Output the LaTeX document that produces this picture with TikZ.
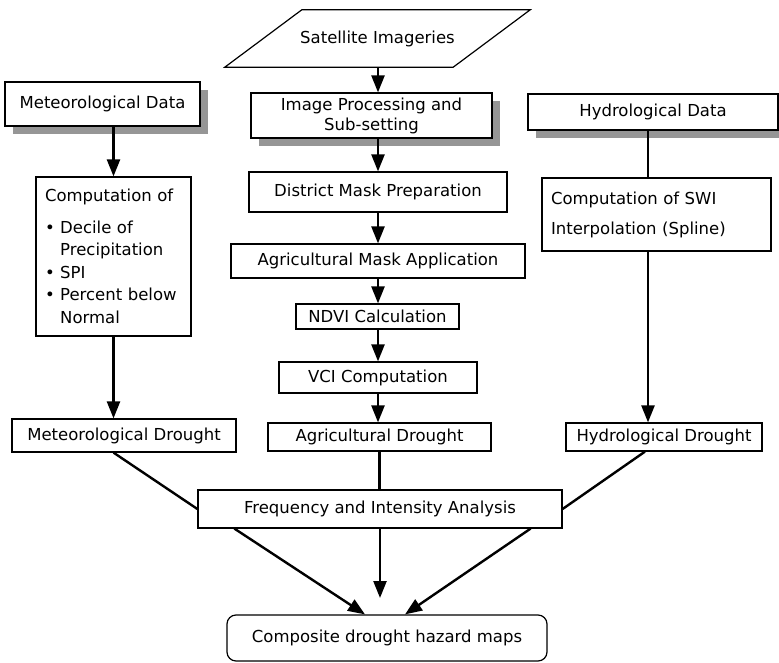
\documentclass[tikz,border=0pt]{standalone}
\usepackage{fontspec}
\setmainfont{DejaVu Sans}
\usepackage{tikz}
\usetikzlibrary{shadows}
\usetikzlibrary{positioning}
\usetikzlibrary{arrows.meta}
\definecolor{shadowgray}{RGB}{150,150,150}

\begin{document}
\begin{tikzpicture}[x=1pt, y=-1pt,
        box/.style={rectangle, draw=black, fill=white, line width=1.2pt, inner sep=0pt, font=\fontsize{16.5}{20}\selectfont},
        shadowbox/.style={box, drop shadow={shadow xshift=8pt, shadow yshift=-8pt, fill=shadowgray, opacity=1}},
        listbox/.style={box, align=left, inner xsep=9pt, font=\fontsize{16.5}{22.5}\selectfont},
        flow/.style={-{Triangle[length=17pt, width=13pt]}, line width=2.4pt},
        link/.style={line width=2.4pt}
      ]
        \useasboundingbox (0,0) rectangle (779,663);

        % left column
        \node[shadowbox]  (metdata)    at(102.5, 104)  [minimum width=195pt, minimum height=44pt]   {Meteorological Data};
        \node[listbox]    (metcomp)    at(113.5, 256.5) [minimum width=155pt, minimum height=159pt, text width=137pt]
              {Computation of\\[9pt] \textbullet\ Decile of\\ \hphantom{\textbullet\ }Precipitation\\ \textbullet\ SPI\\ \textbullet\ Percent below\\ \hphantom{\textbullet\ }Normal};
        \node[box]        (metdrought) at(124, 435.5)  [minimum width=224pt, minimum height=33pt]   {Meteorological Drought};

        % middle column
        \node[font=\fontsize{16.5}{20}\selectfont, minimum width=228pt, minimum height=57pt, inner sep=0pt] (sat) at(377.5, 38.5) {Satellite Imageries};
        \draw[line width=1.2pt] ([xshift=38.5pt]sat.north west) -- ([xshift=38.5pt]sat.north east)
              -- ([xshift=-38.5pt]sat.south east) -- ([xshift=-38.5pt]sat.south west) -- cycle;
        \node[shadowbox, align=center]  (improc)   at(371.5, 115.5) [minimum width=241pt, minimum height=45pt] {Image Processing and\\Sub-setting};
        \node[box]        (distmask)   at(378, 192)    [minimum width=258pt, minimum height=40pt]   {District Mask Preparation};
        \node[box]        (agmask)     at(378, 261)    [minimum width=294pt, minimum height=34pt]   {Agricultural Mask Application};
        \node[box]        (ndvi)       at(377.5, 316.5) [minimum width=163pt, minimum height=25pt]  {NDVI Calculation};
        \node[box]        (vci)        at(378, 377.5)  [minimum width=198pt, minimum height=31pt]   {VCI Computation};
        \node[box]        (agdrought)  at(379.5, 437)  [minimum width=223pt, minimum height=28pt]   {Agricultural Drought};

        % right column
        \node[shadowbox]  (hyddata)    at(653, 112)    [minimum width=250pt, minimum height=36pt]   {Hydrological Data};
        \node[box, align=left, inner xsep=9pt, font=\fontsize{16.5}{30}\selectfont] (hydcomp) at(656.5, 214.5)
              [minimum width=229pt, minimum height=73pt, text width=211pt] {Computation of SWI\\Interpolation (Spline)};
        \node[box]        (hyddrought) at(664, 437)    [minimum width=196pt, minimum height=28pt]   {Hydrological Drought};

        % bottom
        \node[box]        (freq)       at(380, 509)    [minimum width=364pt, minimum height=38pt]   {Frequency and Intensity Analysis};
        \node[box, rounded corners=9pt] (composite) at(387, 638) [minimum width=320pt, minimum height=46pt] {Composite drought hazard maps};
        \coordinate (midend) at(380, 598);

        \draw[flow]  (metdata.south -| metcomp.north) -- (metcomp.north);
        \draw[flow]  (metcomp.south) -- (metcomp.south |- metdrought.north);

        \draw[flow]  (sat.south -| distmask.north) -- (improc.north -| distmask.north);
        \draw[flow]  (improc.south -| distmask.north) -- (distmask.north);
        \draw[flow]  (distmask.south) -- (agmask.north);
        \draw[flow]  (agmask.south) -- (agmask.south |- ndvi.north);
        \draw[flow]  (ndvi.south -| vci.north) -- (vci.north);
        \draw[flow]  (vci.south) -- (vci.south |- agdrought.north);

        \draw[link]  (hyddata.south -| 648, 0) -- (hydcomp.north -| 648, 0);
        \draw[flow]  (hydcomp.south -| 648, 0) -- (hyddrought.north -| 648, 0);

        \draw[link]  (metdrought.south -| metcomp.south) -- (freq.west);
        \draw[link]  (agdrought.south) -- (agdrought.south |- freq.north);
        \draw[link]  ([xshift=-19pt]hyddrought.south) -- (freq.east);

        \draw[flow]  ([xshift=37pt]freq.south west) -- ([xshift=-22pt]composite.north);
        \draw[flow]  (freq.south) -- (midend);
        \draw[flow]  ([xshift=-32pt]freq.south east) -- ([xshift=18pt]composite.north);
      \end{tikzpicture}
\end{document}
